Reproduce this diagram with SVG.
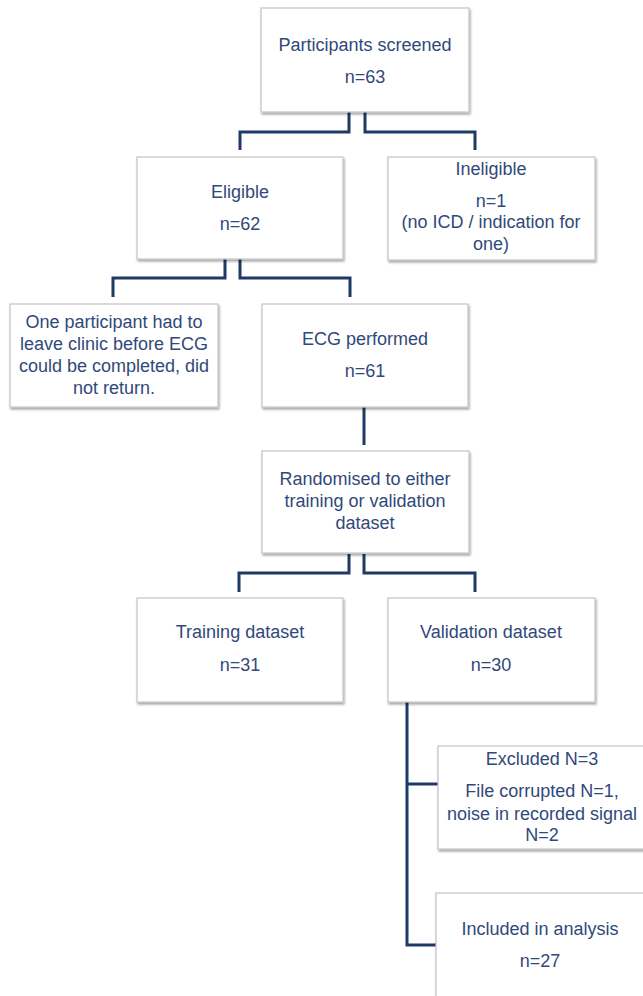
<svg xmlns="http://www.w3.org/2000/svg" width="643" height="996" viewBox="0 0 643 996">
<defs>
<filter id="sh" x="-10%" y="-10%" width="125%" height="130%">
<feDropShadow dx="1" dy="2" stdDeviation="1.2" flood-color="#000" flood-opacity="0.35"/>
</filter>
</defs>
<style>
.box{fill:#ffffff;stroke:#c4c4c4;stroke-width:1.2;filter:url(#sh)}
.t{font-family:"Liberation Sans",Arial,sans-serif;font-size:18px;fill:#30497a;text-anchor:middle}
.c{fill:none;stroke:#1f3a66;stroke-width:3;stroke-linejoin:miter}
</style>
<rect width="643" height="996" fill="#ffffff"/>
<g id="connectors">
<path class="c" d="M349 112 V132 H240 V150"/>
<path class="c" d="M365 112 V132 H475 V150"/>
<path class="c" d="M225 259 V278 H113 V297"/>
<path class="c" d="M240 259 V278 H350 V297"/>
<path class="c" d="M364 407 V445"/>
<path class="c" d="M349 554 V573 H239 V592"/>
<path class="c" d="M364 554 V573 H475 V592"/>
<path class="c" d="M407 702 V945 H436"/>
<path class="c" d="M407 784 H438"/>
</g>
<g id="screened">
<rect class="box" x="261" y="8" width="208" height="104"/>
<text class="t" x="365" y="51">Participants screened</text>
<text class="t" x="365" y="83">n=63</text>
</g>
<g id="eligible">
<rect class="box" x="137" y="157" width="206" height="102"/>
<text class="t" x="240" y="198">Eligible</text>
<text class="t" x="240" y="230">n=62</text>
</g>
<g id="ineligible">
<rect class="box" x="388" y="157" width="207" height="103"/>
<text class="t" x="491" y="175">Ineligible</text>
<text class="t" x="491" y="207">n=1</text>
<text class="t" x="491" y="228">(no ICD / indication for</text>
<text class="t" x="491" y="250">one)</text>
</g>
<g id="dropout">
<rect class="box" x="10" y="304" width="208" height="103"/>
<text class="t" x="114" y="328">One participant had to</text>
<text class="t" x="114" y="350">leave clinic before ECG</text>
<text class="t" x="114" y="372">could be completed, did</text>
<text class="t" x="114" y="394">not return.</text>
</g>
<g id="ecg">
<rect class="box" x="262" y="304" width="206" height="103"/>
<text class="t" x="365" y="345">ECG performed</text>
<text class="t" x="365" y="377">n=61</text>
</g>
<g id="randomised">
<rect class="box" x="262" y="451" width="207" height="102"/>
<text class="t" x="365" y="485">Randomised to either</text>
<text class="t" x="365" y="507">training or validation</text>
<text class="t" x="365" y="529">dataset</text>
</g>
<g id="training">
<rect class="box" x="137" y="598" width="206" height="104"/>
<text class="t" x="240" y="638">Training dataset</text>
<text class="t" x="240" y="671">n=31</text>
</g>
<g id="validation">
<rect class="box" x="388" y="598" width="207" height="104"/>
<text class="t" x="491" y="638">Validation dataset</text>
<text class="t" x="491" y="671">n=30</text>
</g>
<g id="excluded">
<rect class="box" x="438" y="746" width="210" height="103"/>
<text class="t" x="542" y="765">Excluded N=3</text>
<text class="t" x="542" y="797">File corrupted N=1,</text>
<text class="t" x="542" y="820">noise in recorded signal</text>
<text class="t" x="542" y="841">N=2</text>
</g>
<g id="included">
<rect class="box" x="436" y="893" width="210" height="104"/>
<text class="t" x="540" y="935">Included in analysis</text>
<text class="t" x="540" y="967">n=27</text>
</g>
</svg>
